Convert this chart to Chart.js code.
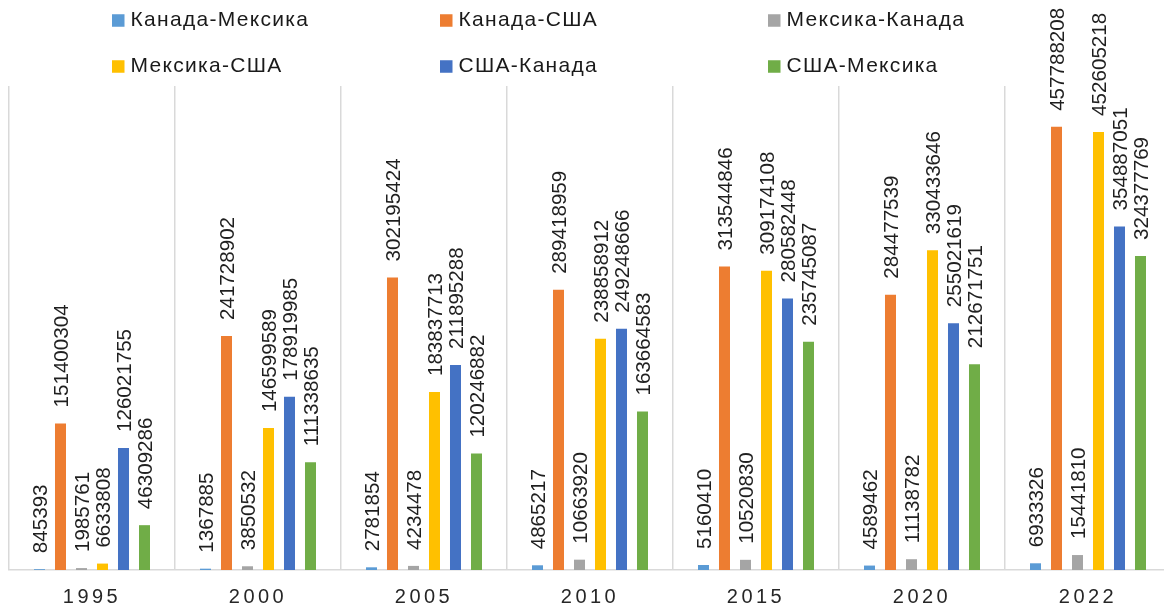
<!DOCTYPE html>
<html>
<head>
<meta charset="utf-8">
<script src="https://cdn.jsdelivr.net/npm/chart.js@4/dist/chart.umd.min.js"></script>
<style>
  html, body { margin: 0; padding: 0; overflow: hidden; background: #fff; }
  #wrap { position: relative; width: 1172px; height: 610px; }
</style>
</head>
<body>
<div id="wrap"><canvas id="c"></canvas></div>
<script>
const categories = ['1995', '2000', '2005', '2010', '2015', '2020', '2022'];
const seriesNames = ['Канада-Мексика', 'Канада-США', 'Мексика-Канада', 'Мексика-США', 'США-Канада', 'США-Мексика'];
const canadaMexico = [845393, 1367885, 2781854, 4865217, 5160410, 4589462, 6933326];
const canadaUSA = [151400304, 241728902, 302195424, 289418959, 313544846, 284477539, 457788208];
const mexicoCanada = [1985761, 3850532, 4234478, 10663920, 10520830, 11138782, 15441810];
const mexicoUSA = [6633808, 146599589, 183837713, 238858912, 309174108, 330433646, 452605218];
const usaCanada = [126021755, 178919985, 211895288, 249248666, 280582448, 255021619, 354887051];
const usaMexico = [46309286, 111338635, 120246882, 163664583, 235745087, 212671751, 324377769];
const seriesValues = [canadaMexico, canadaUSA, mexicoCanada, mexicoUSA, usaCanada, usaMexico];
const seriesColors = ['#5B9BD5', '#ED7D31', '#A5A5A5', '#FFC000', '#4472C4', '#70AD47'];
const yMax = 500000000;

const FONT = '"Liberation Sans", Arial, sans-serif';

const labelPlugin = {
  id: 'barLabels',
  afterDatasetsDraw(chart) {
    const ctx = chart.ctx;
    ctx.save();
    ctx.letterSpacing = '0px';
    ctx.font = '20.6px ' + FONT;
    ctx.fillStyle = '#1f1f1f';
    ctx.textAlign = 'left';
    ctx.textBaseline = 'middle';
    chart.data.datasets.forEach((ds, i) => {
      const meta = chart.getDatasetMeta(i);
      meta.data.forEach((bar, j) => {
        ctx.save();
        ctx.translate(bar.x + 1.5, bar.y - 16);
        ctx.rotate(-Math.PI / 2);
        ctx.fillText(String(ds.data[j]), 0, 0);
        ctx.restore();
      });
    });
    ctx.restore();
  }
};

const spacingPlugin = {
  id: 'tickSpacing',
  beforeDraw(chart) { chart.ctx.letterSpacing = '3.5px'; },
  beforeDatasetsDraw(chart) { chart.ctx.letterSpacing = '0px'; }
};

const legendPlugin = {
  id: 'customLegend',
  afterDraw(chart) {
    const ctx = chart.ctx;
    ctx.save();
    ctx.letterSpacing = '1.3px';
    ctx.font = '21px ' + FONT;
    ctx.textAlign = 'left';
    ctx.textBaseline = 'middle';
    const colX = [112, 440, 768];
    const rowY = [20.5, 66.5];
    chart.data.datasets.forEach((ds, i) => {
      const x = colX[i % 3];
      const y = rowY[Math.floor(i / 3)];
      ctx.fillStyle = ds.backgroundColor;
      ctx.fillRect(x, y - 6.25, 12.5, 12.5);
      ctx.fillStyle = '#1a1a1a';
      ctx.fillText(ds.label, x + 18.5, y);
    });
    ctx.restore();
  }
};

new Chart(document.getElementById('c'), {
  type: 'bar',
  data: {
    labels: categories,
    datasets: seriesNames.map((name, i) => ({
      label: name,
      data: seriesValues[i],
      backgroundColor: seriesColors[i],
      borderWidth: 0,
      categoryPercentage: 0.759,
      barPercentage: 0.524
    }))
  },
  options: {
    responsive: true,
    maintainAspectRatio: false,
    animation: false,
    layout: { padding: { top: 86, left: 9, right: 1, bottom: 0 } },
    plugins: {
      legend: { display: false },
      tooltip: { enabled: false }
    },
    scales: {
      x: {
        grid: { display: true, offset: true, color: '#d9d9d9', lineWidth: 1.5, drawTicks: false },
        border: { display: true, color: '#d9d9d9', width: 1.5 },
        ticks: { color: '#262626', font: { family: FONT, size: 20 }, padding: 15, maxRotation: 0, autoSkip: false },
        afterFit(scale) { scale.height = 40; }
      },
      y: {
        display: false,
        min: 0,
        max: yMax
      }
    }
  },
  plugins: [spacingPlugin, labelPlugin, legendPlugin]
});
</script>
</body>
</html>
